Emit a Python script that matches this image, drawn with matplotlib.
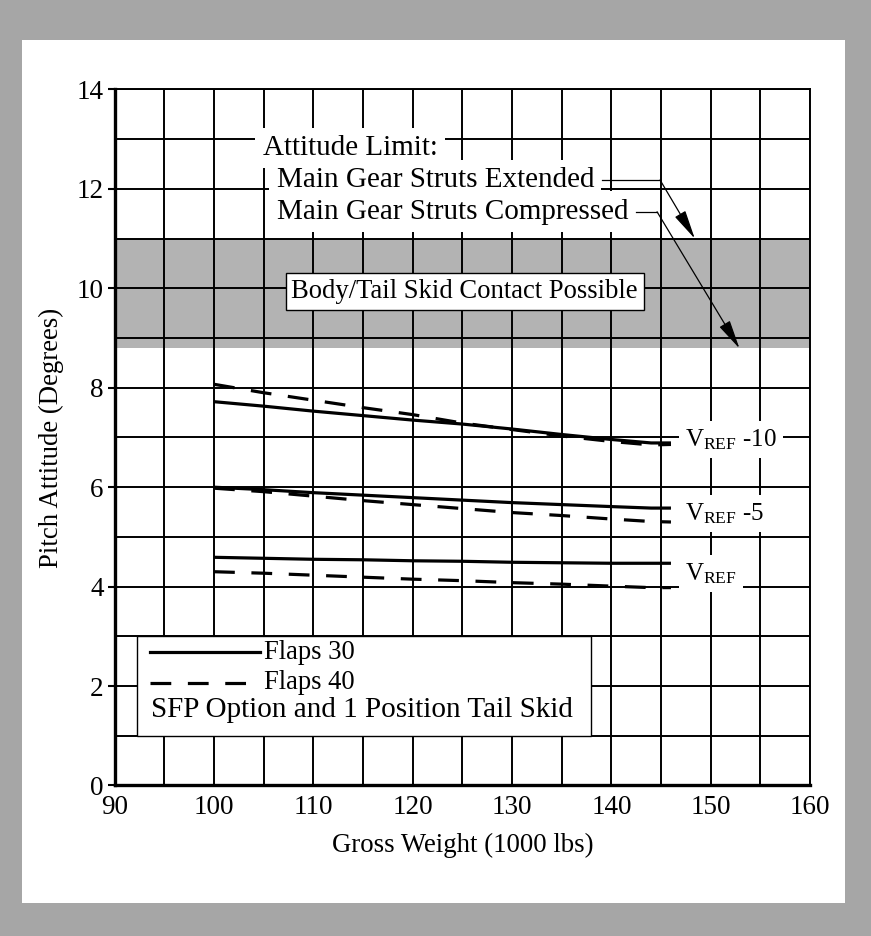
import matplotlib
matplotlib.use('Agg')
import matplotlib.pyplot as plt
from matplotlib.patches import Rectangle
from matplotlib.lines import Line2D

plt.rcParams['font.family'] = ['Liberation Serif', 'DejaVu Serif']
plt.rcParams['mathtext.fontset'] = 'custom'
plt.rcParams['mathtext.rm'] = 'Liberation Serif'
plt.rcParams['mathtext.it'] = 'Liberation Serif:italic'

# gross weight (1000 lbs)
weight = [100, 105, 110, 115, 120, 125, 130, 135, 140, 144, 146]

# pitch attitude (degrees), flaps 30 (solid)
f30_vref10 = [7.72, 7.63, 7.53, 7.44, 7.35, 7.27, 7.17, 7.06, 6.96, 6.89, 6.89]
f30_vref5 = [6.00, 5.95, 5.89, 5.84, 5.79, 5.74, 5.69, 5.65, 5.61, 5.58, 5.58]
f30_vref = [4.59, 4.57, 4.55, 4.54, 4.52, 4.51, 4.49, 4.48, 4.47, 4.47, 4.47]

# flaps 40 (dashed)
f40_vref10 = [8.07, 7.90, 7.75, 7.60, 7.46, 7.29, 7.16, 7.03, 6.92, 6.85, 6.86]
f40_vref5 = [5.98, 5.91, 5.82, 5.73, 5.65, 5.57, 5.49, 5.43, 5.36, 5.31, 5.30]
f40_vref = [4.30, 4.27, 4.23, 4.19, 4.15, 4.12, 4.08, 4.05, 4.01, 3.98, 3.98]

band = (8.8, 11.0)

speed_labels = [r'$\mathrm{V_{REF}}$ -10', r'$\mathrm{V_{REF}}$ -5', r'$\mathrm{V_{REF}}$']
speed_label_y = [6.82, 5.34, 4.13]

fig = plt.figure(figsize=(8.71, 9.36), dpi=100)
fig.patch.set_facecolor('#a6a6a6')
fig.add_artist(Rectangle((0.0253, 0.0353), 0.9447, 0.922, transform=fig.transFigure,
                         facecolor='white', edgecolor='none', zorder=-1))

ax = fig.add_axes([0.1317, 0.1608, 0.7983, 0.7436])
ax.set_xlim(90, 160)
ax.set_ylim(0, 14)
ax.set_xticks(range(90, 161, 10))
ax.set_xticks(range(95, 160, 10), minor=True)
ax.set_yticks(range(0, 15, 2))
ax.set_yticks(range(1, 14, 2), minor=True)
ax.set_axisbelow(True)
ax.grid(True, which='both', color='black', linewidth=1.4)
ax.tick_params(axis='x', which='both', length=0, pad=7, labelsize=19.5)
ax.tick_params(axis='y', which='major', length=5, width=1.5, pad=3, labelsize=19.5)
ax.tick_params(axis='y', which='minor', length=0)
for s in ['left', 'bottom']:
    ax.spines[s].set_linewidth(2.4)
for s in ['top', 'right']:
    ax.spines[s].set_linewidth(1.4)

ax.axhspan(band[0], band[1], color='#b3b3b3', zorder=0.2, linewidth=0)

lw = 2.3
dash = (6.5, 5.2)
for y in [f30_vref10, f30_vref5, f30_vref]:
    ax.plot(weight, y, color='black', linewidth=lw, solid_capstyle='butt', zorder=2)
for y in [f40_vref10, f40_vref5, f40_vref]:
    ax.plot(weight, y, color='black', linewidth=lw, dashes=dash, zorder=2)

for lab, yy in zip(speed_labels, speed_label_y):
    ax.text(147.4, yy, lab, fontsize=18, va='baseline', ha='left', zorder=3,
            bbox=dict(boxstyle='square,pad=0.25', facecolor='white', edgecolor='none'))

# attitude limit notes
wbox = dict(boxstyle='square,pad=0.25', facecolor='white', edgecolor='none')
ax.text(104.9, 12.82, 'Attitude Limit:', fontsize=21, va='center', ha='left', bbox=wbox, zorder=3)
ax.text(106.3, 12.18, 'Main Gear Struts Extended', fontsize=21, va='center', ha='left', bbox=wbox, zorder=3)
ax.text(106.3, 11.54, 'Main Gear Struts Compressed', fontsize=21, va='center', ha='left', bbox=wbox, zorder=3)

ax.plot([139.1, 144.9], [12.18, 12.18], color='black', linewidth=0.9, zorder=4)
ax.annotate('', xy=(148.4, 11.0), xytext=(144.9, 12.18), zorder=4,
            arrowprops=dict(arrowstyle='-|>,head_length=1.2,head_width=0.25', color='black',
                            linewidth=0.9, mutation_scale=15, shrinkA=0, shrinkB=0))
ax.plot([142.5, 144.6], [11.54, 11.54], color='black', linewidth=0.9, zorder=4)
ax.annotate('', xy=(152.9, 8.79), xytext=(144.6, 11.54), zorder=4,
            arrowprops=dict(arrowstyle='-|>,head_length=1.2,head_width=0.25', color='black',
                            linewidth=0.9, mutation_scale=15, shrinkA=0, shrinkB=0))

ax.text(125.23, 9.94, 'Body/Tail Skid Contact Possible', fontsize=19.2, va='center', ha='center',
        zorder=3, bbox=dict(boxstyle='square,pad=0.22', facecolor='white', edgecolor='black', linewidth=1))

# legend box
ax.add_patch(Rectangle((92.25, 1.0), 45.65, 2.0, facecolor='white', edgecolor='black',
                       linewidth=1, zorder=3))
ax.add_line(Line2D([93.6, 104.6], [2.68, 2.68], color='black', linewidth=lw, zorder=4))
ax.add_line(Line2D([93.6, 104.6], [2.07, 2.07], color='black', linewidth=lw, dashes=dash, zorder=4))
ax.text(105.0, 2.68, 'Flaps 30', fontsize=19.2, va='center', ha='left', zorder=4)
ax.text(105.0, 2.07, 'Flaps 40', fontsize=19.2, va='center', ha='left', zorder=4)
ax.text(93.7, 1.52, 'SFP Option and 1 Position Tail Skid', fontsize=21, va='center', ha='left', zorder=4)

ax.set_xlabel('Gross Weight (1000 lbs)', fontsize=19.3, labelpad=9)
ax.set_ylabel('Pitch Attitude (Degrees)', fontsize=19.3, labelpad=9)

fig.savefig('out.png', dpi=100, facecolor=fig.get_facecolor())
